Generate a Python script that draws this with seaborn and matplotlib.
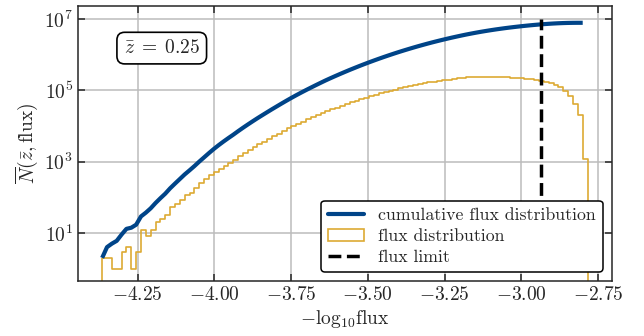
import numpy as np
import pandas as pd
import matplotlib
matplotlib.use("Agg")
import matplotlib.pyplot as plt
from matplotlib.lines import Line2D
from matplotlib.patches import Patch
import matplotlib.ticker as mticker
import seaborn as sns

# ---------------- data ----------------
flux_min = -4.366          # left edge of first bin (-log10 flux)
flux_max = -2.784          # right edge of last bin
n_bins = 100
flux_limit = -2.935
flux_limit_span = [1.0, 1.0e7]

counts = [
    2, 2, 1, 1, 3, 4, 1, 3, 12, 8,
    12, 20, 25, 32, 52, 63, 83, 112, 132, 178,
    251, 316, 417, 525, 631, 759, 912, 1096, 1445, 1738,
    2089, 2512, 3020, 3548, 4266, 5129, 6026, 7244, 8511, 10000,
    11482, 13183, 15136, 17378, 19953, 22909, 26303, 28840, 32359, 36308,
    40738, 45709, 50119, 56234, 61660, 67608, 74131, 81283, 89125, 95499,
    104713, 112202, 120226, 128825, 138038, 147911, 154882, 165959, 173780, 181970,
    190546, 199526, 208930, 213796, 223872, 229087, 229087, 234423, 234423, 234423,
    234423, 234423, 229087, 229087, 223872, 218776, 213796, 208930, 204174, 194984,
    186209, 173780, 158489, 141254, 120226, 95499, 70795, 41687, 19953, 1202,
]

x_ticks = [-4.25, -4.0, -3.75, -3.5, -3.25, -3.0, -2.75]
y_ticks = [1e1, 1e3, 1e5, 1e7]
z_label = r"$\bar{z}\;=\;0.25$"
legend_labels = ["cumulative flux distribution", "flux distribution", "flux limit"]

BLUE = "#004488"
ORANGE = "#DDAA33"

edges = np.linspace(flux_min, flux_max, n_bins + 1)
centers = 0.5 * (edges[:-1] + edges[1:])
counts = np.asarray(counts, dtype=float)
cumulative = np.cumsum(counts)
hist_df = pd.DataFrame({"flux": centers, "count": counts})
cum_df = pd.DataFrame({"flux": edges[:-1], "cum": cumulative})
lim_df = pd.DataFrame({"flux": [flux_limit] * len(flux_limit_span), "n": flux_limit_span})

# ---------------- style ----------------
FS = 14
sns.set_style("ticks")
plt.rcParams.update({
    "font.family": "serif",
    "font.serif": ["cmr10", "DejaVu Serif"],
    "mathtext.fontset": "cm",
    "axes.formatter.use_mathtext": True,
    "font.size": FS,
    "axes.linewidth": 1.1,
    "xtick.direction": "in",
    "ytick.direction": "in",
    "xtick.top": True,
    "ytick.right": True,
    "xtick.major.size": 5,
    "ytick.major.size": 5,
    "xtick.major.width": 1.1,
    "ytick.major.width": 1.1,
    "xtick.labelsize": FS,
    "ytick.labelsize": FS,
})

fig = plt.figure(figsize=(6.44, 3.36), dpi=100)
ax = fig.add_axes([0.121, 0.164, 0.829, 0.818])
ax.set_yscale("log")

ax.grid(True, which="major", color="#bcbcbc", linewidth=1.1, zorder=0)
ax.set_axisbelow(True)

n_before = len(ax.collections)
sns.histplot(data=hist_df, x="flux", weights="count", bins=edges.tolist(),
             element="step", fill=True, color=ORANGE, linewidth=1.2, ax=ax, zorder=2)
for coll in ax.collections[n_before:]:
    coll.set_facecolor("none")
    coll.set_edgecolor(ORANGE)
    coll.set_linewidth(1.2)

sns.lineplot(data=cum_df, x="flux", y="cum", color=BLUE, linewidth=3.0, ax=ax,
             zorder=3, solid_capstyle="butt")

sns.lineplot(data=lim_df, x="flux", y="n", estimator=None, sort=False, color="black",
             linewidth=2.5, linestyle="--", ax=ax, zorder=4)

ax.set_xlim(-4.445, -2.705)
ax.set_ylim(10 ** -0.345, 10 ** 7.36)
ax.set_xticks(x_ticks)
ax.set_yticks(y_ticks)
ax.yaxis.set_minor_locator(mticker.NullLocator())
ax.xaxis.set_major_formatter(mticker.FuncFormatter(lambda v, p: r"$\mathdefault{%.2f}$" % v))

ax.set_xlabel(r"$-\log_{10}\!\mathrm{flux}$", fontsize=FS, labelpad=3)
ax.set_ylabel(r"$\overline{N}(\bar{z},\mathrm{flux})$", fontsize=FS, labelpad=3)

ax.text(0.157, 0.847, z_label, transform=ax.transAxes, ha="center", va="center",
        fontsize=FS,
        bbox=dict(boxstyle="round,pad=0.35,rounding_size=0.4", fc="white", ec="black", lw=1.2),
        zorder=5)

handles = [
    Line2D([], [], color=BLUE, linewidth=3.0),
    Patch(facecolor="none", edgecolor=ORANGE, linewidth=1.2),
    Line2D([], [], color="black", linewidth=2.5, linestyle="--"),
]
leg = ax.legend(handles, legend_labels, loc="lower right", frameon=True,
                fancybox=True, framealpha=1.0, edgecolor="black", fontsize=12.8,
                handlelength=2.0, labelspacing=0.3, borderpad=0.4, handletextpad=0.8)
leg.get_frame().set_linewidth(1.1)
leg.set_zorder(10)

fig.savefig("out.png", dpi=100)
